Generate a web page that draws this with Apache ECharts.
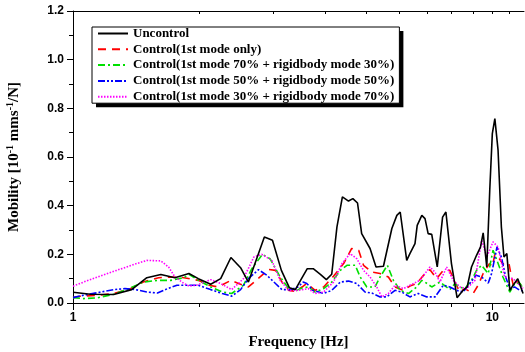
<!DOCTYPE html>
<html>
<head>
<meta charset="utf-8">
<script src="https://cdn.jsdelivr.net/npm/echarts@6/dist/echarts.min.js"></script>
<style>
html,body{margin:0;padding:0;background:#fff;}
#chart{width:525px;height:352px;}
</style>
</head>
<body>
<div id="chart"></div>
<script>
// ---- data: [frequency (Hz), mobility] ----
const seriesNames = [
  'Uncontrol',
  'Control(1st mode only)',
  'Control(1st mode 70% + rigidbody mode 30%)',
  'Control(1st mode 50% + rigidbody mode 50%)',
  'Control(1st mode 30% + rigidbody mode 70%)'
];
const uncontrol = [[1.00,.044],[1.10,.036],[1.25,.035],[1.38,.055],[1.50,.104],[1.62,.117],[1.75,.104],[1.89,.121],[1.99,.100],[2.13,.077],[2.25,.100],[2.38,.187],[2.51,.145],[2.62,.086],[2.86,.271],[2.99,.258],[3.14,.134],[3.28,.063],[3.39,.055],[3.48,.090],[3.62,.141],[3.74,.141],[3.89,.118],[4.02,.096],[4.14,.118],[4.26,.312],[4.39,.436],[4.54,.419],[4.65,.429],[4.77,.411],[4.88,.285],[5.11,.224],[5.28,.148],[5.50,.151],[5.76,.306],[5.92,.360],[6.03,.374],[6.25,.175],[6.36,.203],[6.54,.244],[6.62,.319],[6.79,.360],[6.91,.347],[7.03,.285],[7.17,.282],[7.39,.148],[7.61,.353],[7.75,.374],[7.99,.162],[8.24,.022],[8.52,.052],[8.71,.066],[8.92,.148],[9.17,.196],[9.37,.230],[9.51,.288],[9.70,.148],[9.86,.463],[10.0,.696],[10.14,.758],[10.32,.628],[10.51,.312],[10.66,.189],[10.83,.203],[11.01,.052],[11.21,.073],[11.50,.100],[11.84,.039]];
const control1st = [[1.00,.022],[1.04,.028],[1.15,.032],[1.25,.039],[1.37,.059],[1.47,.086],[1.60,.104],[1.71,.107],[1.84,.104],[1.99,.093],[2.11,.073],[2.22,.066],[2.38,.093],[2.48,.080],[2.62,.066],[2.93,.138],[3.04,.134],[3.15,.086],[3.27,.052],[3.39,.048],[3.54,.069],[3.61,.080],[3.78,.052],[3.96,.066],[4.18,.110],[4.42,.162],[4.62,.224],[4.80,.217],[4.93,.155],[5.16,.127],[5.40,.121],[5.65,.107],[5.86,.066],[6.14,.052],[6.36,.070],[6.60,.080],[6.91,.121],[7.10,.137],[7.37,.100],[7.64,.134],[7.92,.134],[8.14,.086],[8.37,.045],[8.60,.059],[9.00,.039],[9.25,.073],[9.51,.121],[9.84,.162],[10.0,.150],[10.14,.200],[10.32,.190],[10.6,.160],[10.95,.165],[11.1,.110],[11.24,.066],[11.5,.090],[11.84,.060]];
const control70 = [[1.00,.022],[1.06,.018],[1.14,.021],[1.25,.036],[1.36,.059],[1.47,.086],[1.59,.093],[1.71,.093],[1.84,.104],[1.89,.118],[1.99,.093],[2.13,.066],[2.27,.045],[2.39,.039],[2.55,.073],[2.67,.141],[2.83,.200],[2.95,.182],[3.12,.107],[3.27,.059],[3.42,.052],[3.48,.059],[3.64,.066],[3.78,.045],[3.96,.059],[4.14,.086],[4.34,.134],[4.50,.155],[4.71,.155],[4.84,.107],[5.02,.066],[5.25,.066],[5.40,.107],[5.62,.155],[5.81,.093],[6.03,.052],[6.31,.039],[6.36,.045],[6.60,.066],[6.79,.093],[6.91,.086],[7.17,.066],[7.50,.086],[7.92,.055],[8.14,.080],[8.33,.066],[8.60,.059],[8.92,.093],[9.17,.134],[9.43,.155],[9.78,.121],[10.04,.217],[10.26,.175],[10.60,.107],[11.01,.045],[11.30,.080],[11.63,.082],[11.84,.060]];
const control50 = [[1.00,.022],[1.06,.032],[1.15,.043],[1.25,.055],[1.33,.059],[1.41,.055],[1.50,.045],[1.59,.041],[1.68,.059],[1.77,.073],[1.89,.073],[1.99,.073],[2.13,.055],[2.27,.039],[2.39,.028],[2.51,.055],[2.62,.100],[2.77,.137],[2.90,.114],[3.04,.080],[3.15,.055],[3.30,.055],[3.44,.066],[3.54,.086],[3.61,.080],[3.74,.052],[3.96,.039],[4.14,.052],[4.34,.086],[4.54,.090],[4.75,.080],[4.97,.045],[5.16,.041],[5.40,.025],[5.60,.025],[5.86,.052],[6.08,.045],[6.36,.025],[6.66,.039],[6.98,.025],[7.30,.025],[7.64,.073],[7.92,.066],[8.22,.052],[8.52,.045],[8.84,.080],[9.14,.114],[9.43,.107],[9.78,.082],[9.96,.121],[10.26,.230],[10.51,.189],[10.76,.107],[11.01,.059],[11.30,.066],[11.63,.052],[11.84,.050]];
const control30 = [[1.00,.069],[1.06,.086],[1.16,.110],[1.27,.134],[1.40,.159],[1.50,.175],[1.62,.173],[1.69,.148],[1.75,.107],[1.84,.080],[1.89,.070],[1.97,.073],[2.13,.096],[2.25,.080],[2.39,.055],[2.55,.100],[2.70,.189],[2.82,.200],[2.98,.175],[3.12,.093],[3.27,.052],[3.45,.052],[3.64,.059],[3.78,.039],[3.96,.045],[4.18,.086],[4.38,.162],[4.58,.203],[4.75,.182],[4.93,.134],[5.11,.107],[5.30,.066],[5.45,.025],[5.65,.039],[5.86,.073],[6.14,.059],[6.36,.073],[6.72,.093],[7.10,.148],[7.30,.127],[7.50,.086],[7.78,.148],[8.07,.093],[8.37,.066],[8.68,.059],[9.09,.093],[9.43,.258],[9.70,.189],[10.04,.251],[10.32,.230],[10.70,.107],[11.20,.100],[11.63,.073],[11.84,.060]];
const xMajorTicks = [1, 10];
const xMinorTicks = [2, 3, 4, 5, 6, 7, 8, 9, 11];
const xTopTicks = [2, 3, 4, 5, 6, 7, 8, 9, 10, 11];

const colors = ['#000000', '#ff0000', '#00e000', '#0000ff', '#ff00ff'];
const dashes = ['solid', [8, 6], [7, 3, 2, 3], [7, 2, 2, 2, 2, 2], [1.5, 1.5]];
const allData = [uncontrol, control1st, control70, control50, control30];

const sansBold = {fontFamily: '"Liberation Sans", Arial, sans-serif', fontWeight: 'bold', fontSize: 12, color: '#000'};
const serifBold = {fontFamily: '"Liberation Serif", "Times New Roman", serif', fontWeight: 'bold', color: '#000'};

const legendBase = {
  orient: 'vertical',
  left: 92, top: 27,
  padding: [0, 5, 0, 5],
  itemWidth: 30, itemHeight: 12, itemGap: 2.8,
  selectedMode: false,
  data: seriesNames
};

const X_MIN = 1, X_MAX = 11.9;
const chart = echarts.init(document.getElementById('chart'), null, {renderer: 'canvas'});
const option = {
  animation: false,
  backgroundColor: '#fff',
  grid: {left: 73, right: 1, top: 11, bottom: 49, containLabel: false, outerBoundsMode: 'none'},
  legend: [
    Object.assign({}, legendBase, {
      backgroundColor: '#fff',
      borderWidth: 0,
      shadowColor: '#000', shadowBlur: 0.01, shadowOffsetX: 4, shadowOffsetY: 4,
      itemStyle: {opacity: 0, borderWidth: 0},
      textStyle: Object.assign({}, serifBold, {fontSize: 13, lineHeight: 12})
    }),
    Object.assign({}, legendBase, {
      backgroundColor: 'transparent',
      borderColor: '#000', borderWidth: 1,
      itemStyle: {opacity: 0, borderWidth: 0},
      lineStyle: {opacity: 0},
      textStyle: Object.assign({}, serifBold, {fontSize: 13, lineHeight: 12, color: 'rgba(0,0,0,0)'})
    })
  ],
  xAxis: [
    {
      type: 'log', logBase: 10, min: X_MIN, max: X_MAX, position: 'bottom',
      name: 'Frequency [Hz]', nameLocation: 'middle', nameGap: 32,
      nameTextStyle: Object.assign({}, serifBold, {fontSize: 15}),
      axisLine: {show: true, lineStyle: {color: '#000', width: 1}},
      axisTick: {show: true, length: 7, lineStyle: {color: '#000'}, customValues: xMajorTicks},
      axisLabel: Object.assign({}, sansBold, {margin: 9, customValues: xMajorTicks, formatter: v => String(Math.round(v))}),
      splitLine: {show: false}, minorTick: {show: false}
    },
    {
      type: 'log', logBase: 10, min: X_MIN, max: X_MAX, position: 'bottom',
      axisLine: {show: false},
      axisTick: {show: true, length: 4, lineStyle: {color: '#000'}, customValues: xMinorTicks},
      axisLabel: {show: false}, splitLine: {show: false}
    },
    {
      type: 'log', logBase: 10, min: X_MIN, max: X_MAX, position: 'top',
      axisLine: {show: true, lineStyle: {color: '#000', width: 1}},
      axisTick: {show: true, inside: true, length: 3, lineStyle: {color: '#000'}, customValues: xTopTicks},
      axisLabel: {show: false}, splitLine: {show: false}
    }
  ],
  yAxis: {
    type: 'value', min: 0, max: 1.2, interval: 0.2,
    name: 'Mobility [10{s|-1} mms{s|-1}/N]', nameLocation: 'middle', nameGap: 50,
    nameTextStyle: Object.assign({}, serifBold, {fontSize: 15, rich: {
      s: Object.assign({}, serifBold, {fontSize: 10, padding: [0, 0, 8, 0]})
    }}),
    axisLine: {show: true, lineStyle: {color: '#000', width: 1}},
    axisTick: {show: true, length: 6, lineStyle: {color: '#000'}},
    minorTick: {show: true, splitNumber: 2, length: 4, lineStyle: {color: '#000'}},
    axisLabel: Object.assign({}, sansBold, {margin: 9, formatter: v => v.toFixed(1)}),
    splitLine: {show: false}
  },
  series: allData.map((d, i) => ({
    name: seriesNames[i],
    type: 'line',
    xAxisIndex: 0,
    data: d,
    symbol: 'none',
    z: i === 0 ? 5 : 2,
    lineStyle: {color: colors[i], width: 1.6, type: dashes[i]},
    itemStyle: {color: colors[i]}
  }))
};
chart.setOption(option);
</script>
</body>
</html>
